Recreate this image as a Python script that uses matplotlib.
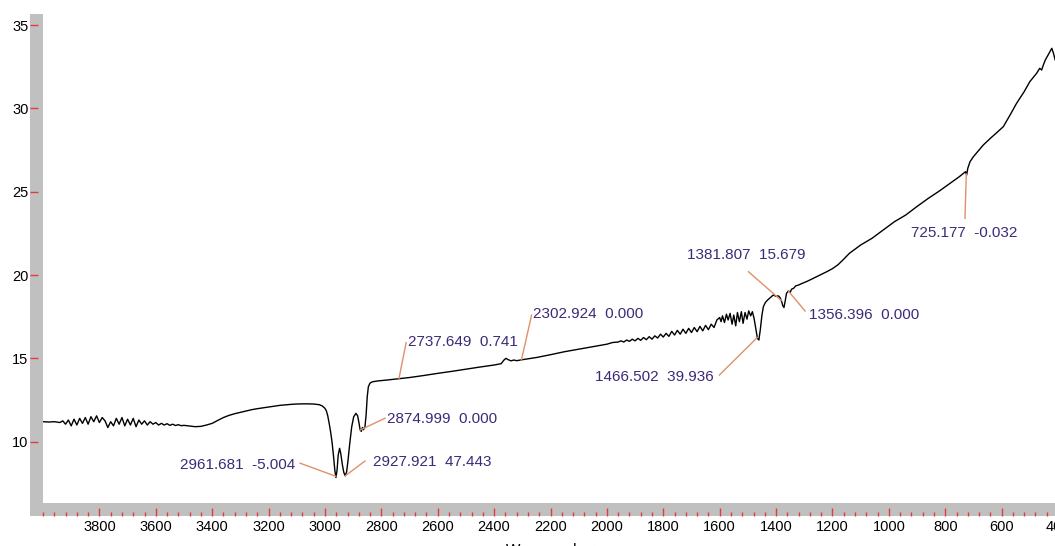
import numpy as np
import matplotlib
matplotlib.use("Agg")
from matplotlib import pyplot as plt
from matplotlib.patches import Rectangle

plt.rcParams['font.family'] = ['Liberation Sans', 'DejaVu Sans']

# spectrum read point by point, wavenumber (cm-1) vs signal
wn = [4000, 3980, 3960, 3940,
      3930, 3920, 3910, 3900, 3890, 3880, 3870, 3860, 3850, 3840, 3830, 3820,
      3810, 3800, 3790, 3780, 3770, 3760, 3750, 3740, 3730, 3720, 3710, 3700,
      3690, 3680, 3670, 3660, 3650, 3640, 3630, 3620, 3610, 3600, 3590, 3580,
      3570, 3560, 3550, 3540, 3530, 3520, 3510, 3500, 3480, 3460, 3440, 3420,
      3400, 3380, 3360, 3340, 3320, 3300, 3280, 3260, 3240, 3220, 3200, 3180,
      3160, 3140, 3120, 3100, 3080, 3060, 3040, 3020, 3010, 3000, 2995, 2990,
      2985, 2980, 2975, 2970, 2965, 2961, 2957, 2953, 2948, 2944, 2938, 2933,
      2928, 2923, 2918, 2912, 2905, 2898, 2890, 2884, 2879, 2875, 2871, 2867,
      2863, 2858, 2854, 2850, 2846, 2840, 2830, 2810, 2780, 2737, 2700, 2650,
      2600, 2550, 2500, 2450, 2400, 2375, 2365, 2358, 2350, 2340, 2330, 2320,
      2300, 2250, 2200, 2150, 2100, 2050, 2000, 1980,
      1960, 1950, 1940, 1930, 1920, 1910, 1900, 1890, 1880, 1870, 1860, 1850,
      1840, 1830, 1820, 1810, 1800, 1790, 1780, 1770, 1760, 1750, 1740, 1730,
      1720, 1710, 1700, 1690, 1680, 1670, 1660, 1650, 1640, 1630, 1620, 1610,
      1600, 1595, 1590, 1583, 1576, 1570, 1563, 1556, 1550, 1543, 1537, 1530,
      1523, 1517, 1510, 1503, 1497, 1490, 1484, 1478, 1472, 1466, 1461, 1456,
      1450, 1445, 1438, 1430, 1420, 1410, 1400, 1392, 1386, 1380, 1376, 1372,
      1368, 1363, 1356, 1350, 1345, 1338, 1330, 1320, 1310, 1300, 1290, 1280,
      1268, 1250, 1235, 1220, 1200, 1180, 1160, 1140, 1100, 1060, 1020, 980,
      940, 901, 860, 820, 783, 750, 728, 724, 720, 712, 700, 680, 665, 640,
      620, 594, 570, 547, 520, 500, 476, 465, 458, 452, 445, 435, 422, 416,
      410, 400]
signal = [11.20, 11.18, 11.20, 11.15,
          11.25, 11.05, 11.30, 10.95, 11.35, 11.00, 11.40, 11.10, 11.45, 11.05, 11.50, 11.20,
          11.55, 11.15, 11.45, 11.25, 10.85, 11.20, 10.95, 11.40, 11.05, 11.45, 10.95, 11.35,
          11.00, 11.40, 10.90, 11.30, 11.05, 11.25, 11.00, 11.20, 11.05, 11.15, 11.00, 11.10,
          11.00, 11.08, 10.98, 11.05, 10.97, 11.02, 10.96, 10.98, 10.94, 10.90, 10.92, 11.00,
          11.10, 11.28, 11.45, 11.58, 11.68, 11.76, 11.84, 11.92, 11.98, 12.03, 12.08, 12.13,
          12.18, 12.21, 12.24, 12.26, 12.27, 12.27, 12.26, 12.22, 12.15, 12.00, 11.85, 11.55,
          11.10, 10.60, 10.00, 9.20, 8.30, 7.85, 8.30, 9.20, 9.60, 9.30, 8.60, 8.15,
          7.95, 8.20, 8.90, 9.90, 10.90, 11.50, 11.70, 11.55, 11.10, 10.70, 10.62, 10.85,
          10.72, 10.90, 11.60, 12.70, 13.30, 13.52, 13.60, 13.65, 13.70, 13.78, 13.85, 13.97,
          14.10, 14.22, 14.35, 14.48, 14.60, 14.68, 14.90, 15.00, 14.92, 14.85, 14.90, 14.86,
          14.92, 15.05, 15.22, 15.40, 15.55, 15.70, 15.85, 15.95,
          15.98, 16.05, 15.98, 16.10, 16.02, 16.15, 16.05, 16.20, 16.08, 16.25, 16.12, 16.30,
          16.15, 16.35, 16.22, 16.45, 16.28, 16.50, 16.32, 16.62, 16.40, 16.68, 16.45, 16.75,
          16.50, 16.80, 16.55, 16.85, 16.60, 16.92, 16.65, 16.98, 16.72, 17.05, 16.85, 17.30,
          17.45, 17.20, 17.55, 17.15, 17.65, 17.30, 17.70, 17.05, 17.60, 16.95, 17.75, 17.20,
          17.80, 17.10, 17.75, 17.35, 17.85, 17.55, 17.80, 17.40, 16.80, 16.20, 16.10, 16.70,
          17.60, 18.10, 18.35, 18.50, 18.65, 18.80, 18.72, 18.75, 18.65, 18.40, 18.15, 18.05,
          18.40, 18.90, 19.05, 18.95, 19.15, 19.20, 19.35, 19.40, 19.48, 19.55, 19.62, 19.70,
          19.80, 19.95, 20.08, 20.20, 20.38, 20.62, 20.95, 21.30, 21.80, 22.20, 22.70, 23.20,
          23.60, 24.10, 24.60, 25.05, 25.50, 25.90, 26.20, 26.00, 26.40, 26.80, 27.10, 27.50, 27.80, 28.20,
          28.50, 28.90, 29.60, 30.30, 31.00, 31.60, 32.10, 32.40, 32.30, 32.60, 32.90, 33.20, 33.60, 33.30,
          32.90, 32.60]

# picked peaks: position and the value printed beside it
peak_wn = [2961.681, 2927.921, 2874.999, 2737.649, 2302.924,
           1466.502, 1381.807, 1356.396, 725.177]
peak_val = [-5.004, 47.443, 0.000, 0.741, 0.000,
            39.936, 15.679, 0.000, -0.032]

# where each leader line ends and where its label sits
leader_end = [(3088, 8.71), (2858, 8.84), (2787, 11.41), (2712, 15.94), (2267, 17.60),
              (1601, 14.0), (1498, 20.2), (1297, 17.84), (730, 23.4)]
label_pos = [(3106, 8.60, 'right'), (2828, 8.80, 'left'), (2779, 11.35, 'left'),
             (2704, 16.0, 'left'), (2261, 17.66, 'left'), (1620, 13.9, 'right'),
             (1504, 21.2, 'center'), (1282, 17.6, 'left'), (733, 22.5, 'center')]

W, H = 1055, 546
fig = plt.figure(figsize=(W / 100, H / 100), dpi=100)
ax = fig.add_axes([43 / W, 43.3 / H, 1015 / W, 488.7 / H])

# grey frame strips on the left and bottom
strip = '#c0c0c0'
fig.add_artist(Rectangle((30 / W, 30 / H), 13 / W, 502 / H, transform=fig.transFigure,
                         facecolor=strip, edgecolor='none', zorder=0))
fig.add_artist(Rectangle((30 / W, 30 / H), 1025 / W, 13.3 / H, transform=fig.transFigure,
                         facecolor=strip, edgecolor='none', zorder=0))

ax.plot(wn, signal, color='black', lw=1.0)

for i, w in enumerate(peak_wn):
    yv = np.interp(w, wn[::-1], signal[::-1])
    lx, ly = leader_end[i]
    ax.plot([w, lx], [yv, ly], color='#e0906a', lw=1.0)
    tx, ty, ha = label_pos[i]
    ax.text(tx, ty, '%.3f  %.3f' % (w, peak_val[i]), ha=ha, va='center',
            fontsize=11, color='#3c2a78')

ax.set_xlim(4000, 400)
ax.set_ylim(6.34, 35.66)
ax.set_xticks(np.arange(3800, 399, -200))
ax.set_xticks(np.arange(4000, 399, -40), minor=True)
ax.set_yticks([10, 15, 20, 25, 30, 35])

for side in ['top', 'right', 'bottom', 'left']:
    ax.spines[side].set_visible(False)
ax.spines['bottom'].set_position(('outward', 9.6))
ax.spines['left'].set_position(('outward', 9.4))

ax.tick_params(axis='x', which='major', direction='in', length=6, width=1.0,
               color='#e03c3c', labelsize=10.5, pad=3)
ax.tick_params(axis='x', which='minor', direction='in', length=3.2, width=1.0,
               color='#e03c3c')
ax.tick_params(axis='y', which='major', direction='in', length=6, width=1.0,
               color='#e03c3c', labelsize=10.5, pad=1)

ax.set_xlabel('Wavenumber', fontsize=11, labelpad=6)

fig.savefig('out.png', dpi=100)
